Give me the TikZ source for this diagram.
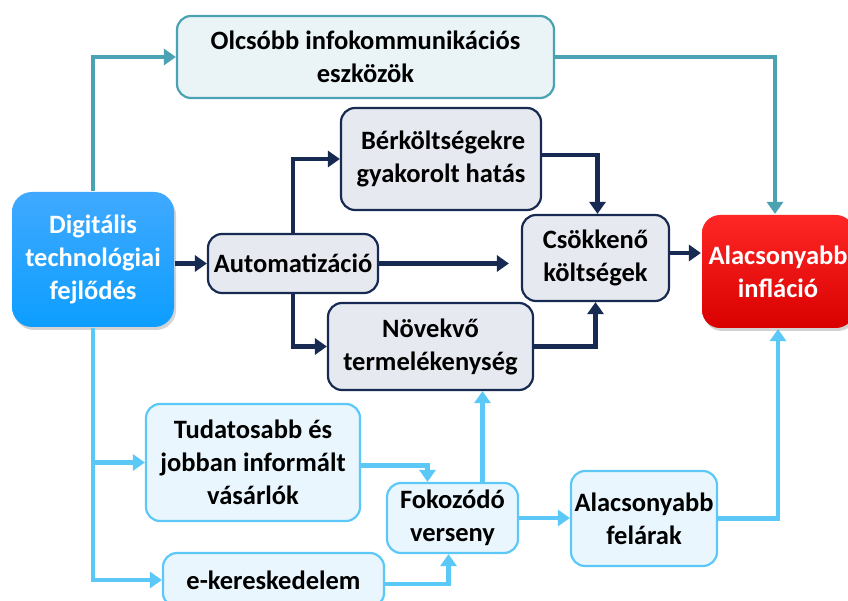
\documentclass[tikz,border=0pt]{standalone}
\usepackage{fontspec}
\setmainfont{Carlito}
\usetikzlibrary{arrows.meta,shadows,calc}
\definecolor{navy}{HTML}{172A52}
\definecolor{lblue}{HTML}{5BC8F8}
\definecolor{teall}{HTML}{4AA2B2}
\definecolor{grayfill}{HTML}{E6E9EF}
\definecolor{lbfill}{HTML}{E9F6FD}
\definecolor{olcfill}{HTML}{EAF3F6}
\tikzset{
  box/.style={rounded corners=14pt, line width=2.2pt, align=center, inner sep=2pt,
    font=\fontsize{26.5}{33}\selectfont\bfseries},
  navybox/.style={box, draw=navy, fill=grayfill, text=black},
  lbbox/.style={box, draw=lblue, fill=lbfill, text=black},
  olcbox/.style={box, draw=teall, fill=olcfill, text=black},
  bigblue/.style={box, rounded corners=20pt, draw=none, top color=cyan!55!blue!75!white, bottom color=cyan!60!blue!95!white, text=white,
    drop shadow={shadow xshift=2pt, shadow yshift=-3pt, opacity=0.35}},
  bigred/.style={box, rounded corners=18pt, draw=none, top color=red!85!white, bottom color=red!85!black, text=white,
    drop shadow={shadow xshift=2pt, shadow yshift=-3pt, opacity=0.35}},
  arr/.style={line width=4.5pt, -{Triangle[width=16pt,length=12pt]}},
  navyarr/.style={arr, draw=navy},
  lbarr/.style={arr, draw=lblue},
  tealarr/.style={arr, line width=4pt, draw=teall},
}
\begin{document}
\begin{tikzpicture}[x=1pt,y=-1pt]
\useasboundingbox (0,0) rectangle (848,601);
% nodes
\node[olcbox, minimum width=377pt, minimum height=82pt] (olc) at (365.5,57) {Olcsóbb infokommunikációs\\eszközök};
\node[bigblue, minimum width=162pt, minimum height=135pt] (dig) at (93,259.5) {Digitális\\technológiai\\fejlődés};
\node[navybox, minimum width=170pt, minimum height=59pt] (aut) at (293,263.5) {Automatizáció};
\node[navybox, minimum width=200pt, minimum height=102pt, align=right] (ber) at (441,159) {Bérköltségekre\\gyakorolt hatás};
\node[navybox, minimum width=147pt, minimum height=86pt] (cso) at (595.5,258) {Csökkenő\\költségek};
\node[navybox, minimum width=205pt, minimum height=87pt] (nov) at (430.5,346.5) {Növekvő\\termelékenység};
\node[bigred, minimum width=152pt, minimum height=113pt] (inf) at (778,271.5) {Alacsonyabb\\infláció};
\node[lbbox, minimum width=214pt, minimum height=117pt] (tud) at (253,462.5) {Tudatosabb és\\jobban informált\\vásárlók};
\node[lbbox, minimum width=221pt, minimum height=54pt] (eker) at (273.5,580) {e-kereskedelem};
\node[lbbox, minimum width=131pt, minimum height=70pt] (fok) at (452.5,518) {Fokozódó\\verseny};
\node[lbbox, minimum width=146pt, minimum height=95pt] (fel) at (644,518.5) {Alacsonyabb\\felárak};
% teal connectors
\draw[tealarr] (dig.north) |- (olc.west);
\draw[tealarr] (olc.east) -| ([xshift=-3pt]inf.north);
% navy connectors
\draw[navyarr] (dig.east |- aut.west) -- (aut.west);
\draw[navyarr] (aut.north) |- (ber.west);
\draw[navyarr] (aut.south) |- (nov.west);
\draw[navyarr, shorten >=12pt] (aut.east) -- (aut.east -| cso.west);
\draw[navyarr] ([yshift=4pt]ber.east) -| ([xshift=2pt]cso.north);
\draw[navyarr] (nov.east) -| (cso.south);
\draw[navyarr] ([yshift=5pt]cso.east) -- ([yshift=5pt]cso.east -| inf.west);
% light blue connectors
\coordinate (br) at (dig.south |- tud.west);
\draw[lbarr] (dig.south) |- (eker.west);
\draw[lbarr] (br) -- (tud.west);
\draw[lbarr] ([yshift=-3pt]tud.east) -| ([xshift=-25pt]fok.north);
\draw[lbarr] ([yshift=-4pt]eker.east) -| ([xshift=-4pt]fok.south);
\coordinate (fu) at ([xshift=30pt]fok.north);
\draw[lbarr] (fu) -- (fu |- nov.south);
\draw[lbarr] (fok.east) -- (fok.east -| fel.west);
\draw[lbarr] (fel.east) -| (inf.south);
\end{tikzpicture}
\end{document}
